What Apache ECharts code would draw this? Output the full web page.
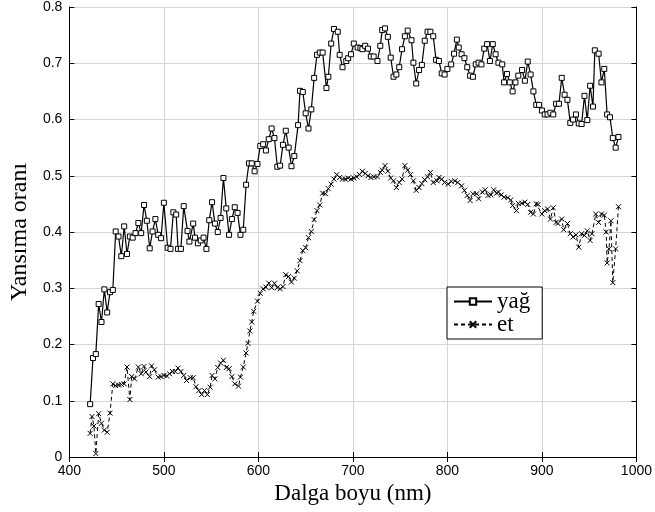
<!DOCTYPE html>
<html>
<head>
<meta charset="utf-8">
<script src="https://cdn.jsdelivr.net/npm/echarts@6/dist/echarts.min.js"></script>
<style>html,body{margin:0;padding:0;background:#fff}#c{width:655px;height:512px}</style>
</head>
<body>
<div id="c"></div>
<script>
var seriesNames = ['yağ', 'et'];
var xTicks = [400, 500, 600, 700, 800, 900, 1000];
var yTicks = [0, 0.1, 0.2, 0.3, 0.4, 0.5, 0.6, 0.7, 0.8];

var yagPoints = [[422,0.094],[425,0.176],[428,0.183],[431,0.272],[434,0.240],[437,0.298],[440,0.257],[443,0.293],[446,0.297],[449,0.401],[452,0.392],[455,0.357],[458,0.410],[461,0.361],[464,0.392],[467,0.390],[470,0.398],[473,0.416],[476,0.398],[479,0.448],[482,0.420],[485,0.371],[488,0.401],[491,0.423],[494,0.395],[497,0.389],[500,0.452],[504,0.372],[507,0.370],[510,0.435],[513,0.431],[515,0.370],[518,0.370],[521,0.446],[525,0.402],[527,0.383],[531,0.415],[533,0.390],[536,0.380],[539,0.385],[542,0.390],[545,0.370],[548,0.421],[551,0.453],[554,0.415],[557,0.400],[560,0.425],[563,0.496],[566,0.442],[569,0.395],[572,0.423],[575,0.444],[578,0.434],[581,0.395],[584,0.404],[587,0.484],[590,0.522],[593,0.522],[596,0.508],[599,0.521],[602,0.553],[605,0.556],[608,0.545],[611,0.565],[614,0.584],[617,0.567],[620,0.516],[623,0.518],[626,0.555],[629,0.580],[632,0.550],[635,0.517],[638,0.535],[642,0.590],[644,0.651],[647,0.649],[650,0.611],[653,0.584],[656,0.618],[659,0.674],[662,0.715],[665,0.719],[668,0.719],[672,0.656],[674,0.676],[677,0.735],[680,0.761],[684,0.756],[686,0.715],[689,0.693],[693,0.704],[695,0.709],[698,0.716],[701,0.735],[705,0.728],[708,0.727],[710,0.725],[713,0.731],[716,0.726],[719,0.712],[722,0.712],[726,0.704],[729,0.731],[731,0.759],[734,0.762],[737,0.747],[740,0.710],[743,0.676],[746,0.680],[749,0.693],[752,0.725],[755,0.748],[758,0.758],[762,0.741],[764,0.701],[767,0.664],[770,0.688],[773,0.697],[776,0.740],[779,0.756],[782,0.756],[785,0.748],[788,0.706],[791,0.704],[794,0.682],[797,0.680],[800,0.690],[804,0.698],[807,0.717],[810,0.742],[812,0.728],[815,0.716],[818,0.709],[821,0.693],[824,0.678],[827,0.676],[830,0.698],[833,0.701],[836,0.698],[839,0.726],[842,0.734],[845,0.704],[848,0.734],[851,0.716],[854,0.701],[858,0.698],[860,0.666],[863,0.681],[866,0.666],[869,0.650],[872,0.666],[875,0.678],[879,0.688],[882,0.669],[885,0.703],[888,0.680],[891,0.650],[894,0.626],[897,0.626],[900,0.616],[903,0.609],[906,0.609],[909,0.612],[912,0.609],[915,0.628],[918,0.628],[921,0.674],[924,0.644],[927,0.635],[930,0.594],[933,0.600],[936,0.609],[939,0.593],[942,0.592],[945,0.642],[948,0.599],[951,0.660],[954,0.623],[956,0.723],[960,0.717],[963,0.666],[966,0.690],[969,0.609],[972,0.604],[975,0.567],[978,0.550],[981,0.569]];

var etPoints = [[422,0.042],[424,0.072],[426,0.055],[428,0.006],[431,0.077],[434,0.060],[437,0.048],[440,0.044],[443,0.078],[446,0.130],[449,0.127],[452,0.128],[455,0.129],[458,0.130],[461,0.160],[464,0.102],[466,0.143],[469,0.139],[473,0.160],[476,0.148],[479,0.161],[481,0.151],[485,0.143],[487,0.162],[490,0.155],[494,0.142],[497,0.143],[500,0.145],[503,0.144],[506,0.148],[509,0.152],[512,0.152],[515,0.158],[518,0.152],[521,0.145],[524,0.136],[528,0.141],[531,0.141],[534,0.125],[537,0.118],[540,0.111],[543,0.118],[546,0.111],[549,0.124],[551,0.145],[554,0.139],[557,0.159],[560,0.167],[563,0.172],[566,0.159],[569,0.157],[572,0.143],[575,0.130],[579,0.126],[581,0.142],[584,0.160],[587,0.185],[589,0.202],[591,0.224],[593,0.240],[595,0.259],[599,0.277],[602,0.291],[605,0.299],[608,0.302],[611,0.309],[614,0.301],[617,0.309],[620,0.301],[623,0.299],[626,0.303],[629,0.324],[632,0.321],[635,0.311],[638,0.318],[641,0.331],[644,0.349],[647,0.367],[650,0.372],[653,0.390],[656,0.401],[659,0.422],[662,0.438],[665,0.448],[668,0.469],[671,0.468],[674,0.477],[677,0.485],[680,0.494],[683,0.502],[686,0.497],[689,0.494],[692,0.494],[695,0.496],[698,0.494],[701,0.496],[704,0.498],[707,0.502],[710,0.508],[713,0.504],[716,0.500],[719,0.497],[722,0.498],[726,0.498],[729,0.506],[731,0.510],[734,0.518],[737,0.508],[740,0.496],[743,0.491],[746,0.479],[749,0.488],[752,0.494],[755,0.518],[758,0.510],[761,0.502],[764,0.491],[767,0.474],[770,0.479],[773,0.486],[776,0.493],[779,0.498],[782,0.506],[785,0.488],[789,0.491],[791,0.497],[794,0.494],[797,0.488],[801,0.485],[804,0.490],[808,0.491],[811,0.488],[815,0.482],[818,0.474],[821,0.465],[824,0.456],[827,0.468],[831,0.468],[833,0.459],[837,0.471],[840,0.475],[843,0.465],[846,0.466],[849,0.475],[852,0.469],[854,0.471],[857,0.466],[860,0.462],[864,0.461],[867,0.457],[869,0.447],[873,0.438],[875,0.451],[879,0.451],[882,0.453],[885,0.449],[888,0.435],[891,0.432],[894,0.450],[896,0.449],[900,0.432],[903,0.438],[906,0.441],[909,0.423],[912,0.443],[915,0.417],[917,0.415],[921,0.423],[923,0.404],[927,0.415],[930,0.397],[933,0.391],[936,0.395],[939,0.373],[942,0.397],[945,0.394],[948,0.402],[951,0.385],[953,0.397],[957,0.432],[960,0.417],[963,0.432],[966,0.430],[968,0.400],[969,0.345],[971,0.370],[973,0.420],[975,0.310],[978,0.370],[981,0.445]];

var chart = echarts.init(document.getElementById('c'), null, {renderer: 'canvas'});
var sans = 'Liberation Sans, Arial, sans-serif';
var serif = 'Liberation Serif, Times New Roman, serif';
var tickStyle = {show: true, inside: true, length: 5, lineStyle: {color: '#000', width: 1}};
var lineAx = {show: true, lineStyle: {color: '#000', width: 1}};
var xBase = {type: 'value', min: xTicks[0], max: xTicks[xTicks.length - 1], interval: xTicks[1] - xTicks[0]};
var yBase = {type: 'value', min: yTicks[0], max: yTicks[yTicks.length - 1], interval: 0.1};

chart.setOption({
  animation: false,
  backgroundColor: '#fff',
  grid: {left: 67, right: 17, top: 6, bottom: 55, containLabel: false},
  legend: {
    data: seriesNames,
    orient: 'vertical',
    left: 447, top: 287,
    itemWidth: 38, itemHeight: 8, itemGap: 0,
    padding: [3, 12, 3, 6],
    borderColor: '#000', borderWidth: 1, backgroundColor: '#fff',
    textStyle: {fontFamily: serif, fontSize: 23, color: '#000'}
  },
  xAxis: [
    Object.assign({}, xBase, {
      position: 'bottom',
      axisLine: lineAx, axisTick: tickStyle,
      axisLabel: {fontFamily: sans, fontSize: 14, color: '#000', margin: 7,
        formatter: function (v) { return String(v); }},
      splitLine: {show: true, lineStyle: {color: '#d4d4d4', width: 1}},
      name: 'Dalga boyu (nm)', nameLocation: 'middle', nameGap: 23,
      nameTextStyle: {fontFamily: serif, fontSize: 23, color: '#000'}
    }),
    Object.assign({}, xBase, {
      position: 'top',
      axisLine: lineAx, axisTick: tickStyle,
      axisLabel: {show: false}, splitLine: {show: false}
    })
  ],
  yAxis: [
    Object.assign({}, yBase, {
      position: 'left',
      axisLine: lineAx, axisTick: tickStyle,
      axisLabel: {fontFamily: sans, fontSize: 14, color: '#000', margin: 7,
        formatter: function (v) { return v === 0 ? '0' : v.toFixed(1); }},
      splitLine: {show: true, lineStyle: {color: '#d4d4d4', width: 1}},
      name: 'Yansıma oranı', nameLocation: 'middle', nameGap: 37,
      nameTextStyle: {fontFamily: serif, fontSize: 24, color: '#000'}
    }),
    Object.assign({}, yBase, {
      position: 'right',
      axisLine: lineAx, axisTick: tickStyle,
      axisLabel: {show: false}, splitLine: {show: false}
    })
  ],
  series: [
    {
      name: seriesNames[0], type: 'line', data: yagPoints,
      xAxisIndex: 0, yAxisIndex: 0,
      symbol: 'rect', symbolSize: 5, showSymbol: true, showAllSymbol: true,
      lineStyle: {color: '#000', width: 1.2, type: 'solid'},
      itemStyle: {color: '#fff', borderColor: '#000', borderWidth: 1}
    },
    {
      name: seriesNames[1], type: 'line', data: etPoints,
      xAxisIndex: 0, yAxisIndex: 0,
      symbol: 'path://M0,0L10,10M10,0L0,10', symbolSize: 5, showSymbol: true, showAllSymbol: true,
      lineStyle: {color: '#000', width: 1, type: [4, 3]},
      itemStyle: {color: 'none', borderColor: '#000', borderWidth: 1}
    }
  ]
});
</script>
</body>
</html>
